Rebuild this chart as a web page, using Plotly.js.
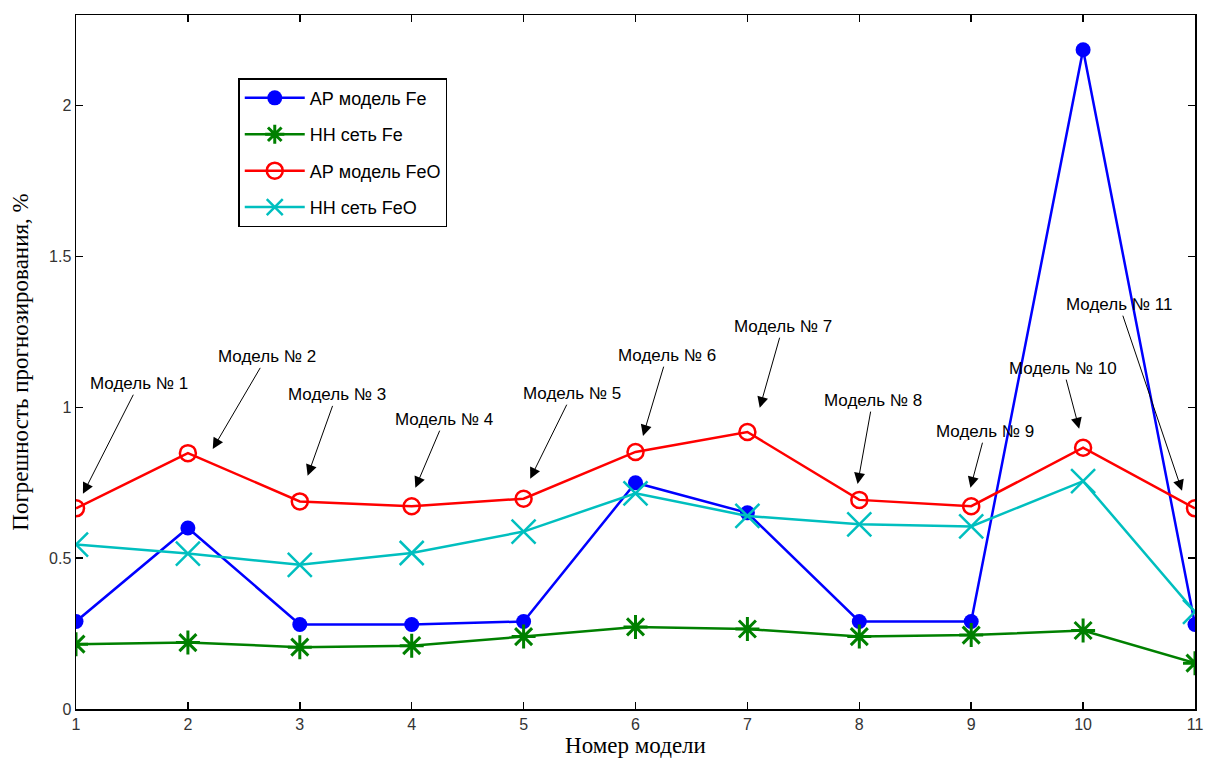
<!DOCTYPE html>
<html>
<head>
<meta charset="utf-8">
<script src="https://cdn.plot.ly/plotly-3.0.1.min.js"></script>
<style>html,body{margin:0;padding:0;background:#fff;}#chart{width:1208px;height:769px;}</style>
</head>
<body>
<div id="chart"></div>
<script>
const models = [1, 2, 3, 4, 5, 6, 7, 8, 9, 10, 11];
const arFe  = [0.29, 0.60, 0.28, 0.28, 0.29, 0.75, 0.65, 0.29, 0.29, 2.185, 0.28];
const nnFe  = [0.215, 0.22, 0.205, 0.21, 0.24, 0.272, 0.265, 0.24, 0.245, 0.26, 0.152];
const arFeO = [0.665, 0.848, 0.688, 0.672, 0.697, 0.852, 0.918, 0.693, 0.672, 0.866, 0.665];
const nnFeO = [0.545, 0.515, 0.478, 0.517, 0.588, 0.715, 0.64, 0.612, 0.605, 0.755, 0.322];
const seriesNames = ['АР модель Fe', 'НН сеть Fe', 'АР модель FeO', 'НН сеть FeO'];
const labelTexts = ['Модель № 1','Модель № 2','Модель № 3','Модель № 4','Модель № 5','Модель № 6','Модель № 7','Модель № 8','Модель № 9','Модель № 10','Модель № 11'];
// arrow heads and label centres, in data units
const headX = [1.062, 2.222, 3.07, 4.033, 5.059, 6.067, 7.11, 7.985, 8.993, 9.965, 10.884];
const headY = [0.713, 0.862, 0.773, 0.733, 0.763, 0.905, 0.998, 0.746, 0.733, 0.929, 0.723];
const textX = [1.562, 2.704, 3.328, 4.292, 5.434, 6.281, 7.316, 8.119, 9.127, 9.823, 10.322];
const textY = [1.078, 1.167, 1.041, 0.959, 1.045, 1.171, 1.267, 1.022, 0.919, 1.128, 1.340];
const xTicks = [1, 2, 3, 4, 5, 6, 7, 8, 9, 10, 11];
const yTicks = [0, 0.5, 1, 1.5, 2];
const yTickText = ['0', '0.5', '1', '1.5', '2'];

const traces = [
  {x: models, y: arFe, name: seriesNames[0], legendgroup: 'a', mode: 'lines+markers',
   line: {color: '#0000ff', width: 2.5}, marker: {symbol: 'circle', size: 15, color: '#0000ff'}},
  {x: models, y: nnFe, name: seriesNames[1], legendgroup: 'b', mode: 'lines+markers',
   line: {color: '#008000', width: 2.5}, marker: {symbol: 'asterisk-open', size: 20, color: '#008000', line: {color: '#008000', width: 3}}},
  {x: models, y: arFeO, name: seriesNames[2], legendgroup: 'c', mode: 'lines+markers',
   line: {color: '#ff0000', width: 2.5}, marker: {symbol: 'circle-open', size: 16, color: '#ff0000', line: {color: '#ff0000', width: 2.5}}},
  {x: models, y: nnFeO, name: seriesNames[3], legendgroup: 'd', mode: 'lines+markers',
   line: {color: '#00bfbf', width: 2.5}, marker: {symbol: 'x-thin-open', size: 24, color: '#00bfbf', line: {color: '#00bfbf', width: 2.5}}}
];

const annotations = labelTexts.map((t, i) => ({
  x: headX[i], y: headY[i], xref: 'x', yref: 'y',
  ax: textX[i], ay: textY[i], axref: 'x', ayref: 'y',
  text: t, showarrow: true, arrowhead: 2, arrowsize: 2.2, arrowwidth: 1, arrowcolor: '#000',
  font: {family: 'Liberation Sans, Arial, sans-serif', size: 17, color: '#000'},
  standoff: 0, startstandoff: 0
}));

const layout = {
  width: 1208, height: 769,
  margin: {l: 76, r: 13, t: 15, b: 60},
  paper_bgcolor: '#fff', plot_bgcolor: '#fff',
  showlegend: true,
  legend: {x: 0.145, y: 0.909, xanchor: 'left', yanchor: 'top', bgcolor: '#fff',
    bordercolor: '#000', borderwidth: 1.5, tracegroupgap: 10, traceorder: 'grouped',
    font: {family: 'Liberation Sans, Arial, sans-serif', size: 18, color: '#000'}, itemwidth: 60},
  xaxis: {range: [1, 11], tickvals: xTicks, ticks: 'inside', ticklen: 7, tickwidth: 1.5, tickcolor: '#000',
    showline: true, linecolor: '#000', linewidth: 1.5, mirror: 'ticks', showgrid: false, zeroline: false,
    tickfont: {family: 'Liberation Sans, Arial, sans-serif', size: 16, color: '#333'},
    title: {text: 'Номер модели', font: {family: 'Liberation Serif, Times New Roman, serif', size: 23, color: '#000'}, standoff: 4}},
  yaxis: {range: [0, 2.3], tickvals: yTicks, ticktext: yTickText, ticks: 'inside', ticklen: 7, tickwidth: 1.5, tickcolor: '#000',
    showline: true, linecolor: '#000', linewidth: 1.5, mirror: 'ticks', showgrid: false, zeroline: false,
    tickfont: {family: 'Liberation Sans, Arial, sans-serif', size: 16, color: '#333'},
    title: {text: 'Погрешность прогнозирования, %', font: {family: 'Liberation Serif, Times New Roman, serif', size: 23, color: '#000'}, standoff: 14}},
  annotations: annotations
};

Plotly.newPlot('chart', traces, layout, {displayModeBar: false, staticPlot: true});
</script>
</body>
</html>
